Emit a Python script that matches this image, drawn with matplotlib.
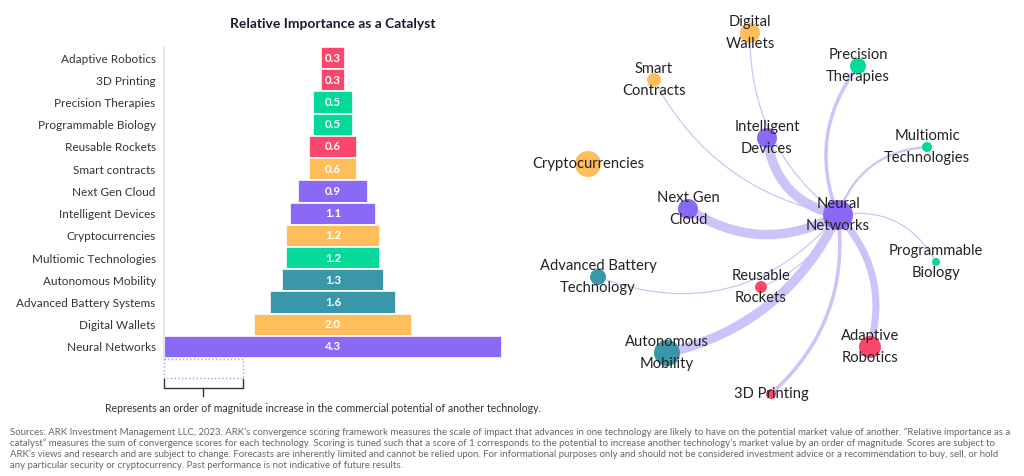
import matplotlib
matplotlib.use("Agg")
import matplotlib.pyplot as plt
from matplotlib.patches import FancyArrowPatch, Rectangle

plt.rcParams['font.family'] = ['Lato', 'DejaVu Sans']

# bar chart data (top to bottom)
techs = ['Adaptive Robotics', '3D Printing', 'Precision Therapies', 'Programmable Biology',
         'Reusable Rockets', 'Smart contracts', 'Next Gen Cloud', 'Intelligent Devices',
         'Cryptocurrencies', 'Multiomic Technologies', 'Autonomous Mobility',
         'Advanced Battery Systems', 'Digital Wallets', 'Neural Networks']
scores = [0.3, 0.3, 0.5, 0.5, 0.6, 0.6, 0.9, 1.1, 1.2, 1.2, 1.3, 1.6, 2.0, 4.3]
groups = ['red', 'red', 'green', 'green', 'red', 'yellow', 'purple', 'purple',
          'yellow', 'green', 'teal', 'teal', 'yellow', 'purple']

palette = {'red': '#FB476B', 'green': '#05D99A', 'yellow': '#FFBE5B',
           'purple': '#8A69F6', 'teal': '#3A97A9'}

# network data
nodes = ['Digital\nWallets', 'Smart\nContracts', 'Precision\nTherapies', 'Intelligent\nDevices',
         'Multiomic\nTechnologies', 'Cryptocurrencies', 'Next Gen\nCloud', 'Neural\nNetworks',
         'Programmable\nBiology', 'Advanced Battery\nTechnology', 'Reusable\nRockets',
         'Autonomous\nMobility', 'Adaptive\nRobotics', '3D Printing']
node_x = [750, 654, 858, 767, 927, 588, 688, 838, 936, 598, 761, 667, 870, 771]
node_y = [33, 80, 66, 138, 147, 164, 209, 215, 262, 277, 287, 353, 347, 394]
node_r = [10, 7, 8, 10, 5, 13, 10, 15, 4, 8, 6, 13, 11, 5]
node_group = ['yellow', 'yellow', 'green', 'purple', 'green', 'yellow', 'purple', 'purple',
              'green', 'teal', 'red', 'teal', 'red', 'red']

# edges into Neural Networks: (source index, weight, curvature)
edge_src = [6, 3, 11, 12, 13, 2, 4, 8, 1, 0, 9, 10]
edge_w = [0.8, 0.8, 0.8, 0.6, 0.3, 0.3, 0.2, 0.1, 0.1, 0.1, 0.1, 0.1]
edge_rad = [0.3, 0.35, 0.24, 0.28, 0.26, 0.28, 0.33, 0.35, 0.24, 0.25, 0.35, 0.2]
hub = 7

footnote = [
    "Sources: ARK Investment Management LLC, 2023. ARK\u2019s convergence scoring framework measures the scale of impact that advances in one technology are likely to have on the potential market value of another. \u201cRelative importance as a",
    "catalyst\u201d measures the sum of convergence scores for each technology. Scoring is tuned such that a score of 1 corresponds to the potential to increase another technology\u2019s market value by an order of magnitude. Scores are subject to",
    "ARK\u2019s views and research and are subject to change. Forecasts are inherently limited and cannot be relied upon. For informational purposes only and should not be considered investment advice or a recommendation to buy, sell, or hold",
    "any particular security or cryptocurrency. Past performance is not indicative of future results.",
]

W, H = 1024, 476
fig = plt.figure(figsize=(W / 100, H / 100), dpi=100)

# ---- network (pixel-like coords) ----
net = fig.add_axes([0, 0, 1, 1])
net.set_xlim(0, W)
net.set_ylim(H, 0)
net.axis('off')

for s, w, r in zip(edge_src, edge_w, edge_rad):
    p = FancyArrowPatch((node_x[s], node_y[s]), (node_x[hub], node_y[hub]),
                        arrowstyle='-', connectionstyle='arc3,rad=%s' % r,
                        lw=max(w * 8.5, 0.9), color='#C9BDF9', alpha=0.9,
                        shrinkA=0, shrinkB=0, zorder=1)
    net.add_patch(p)

sizes = [(2 * r * 0.72) ** 2 for r in node_r]
net.scatter(node_x, node_y, s=sizes, c=[palette[g] for g in node_group],
            linewidths=0, zorder=2)
for name, x, y in zip(nodes, node_x, node_y):
    net.text(x, y, name, ha='center', va='center', fontsize=10.6, color='#222222',
             linespacing=1.7, zorder=3)

# ---- bar chart ----
left, right = 164 / W, 502 / W
top, bottom = 47 / H, 358 / H
ax = fig.add_axes([left, 1 - bottom, right - left, bottom - top])
ypos = list(range(len(techs)))
lefts = [-v / 2 for v in scores]
ax.barh(ypos, scores, left=lefts, height=1.0, color=[palette[g] for g in groups],
        edgecolor='white', linewidth=1.2, zorder=2)
for y, v in zip(ypos, scores):
    ax.text(0, y, '%.1f' % v, ha='center', va='center', color='white',
            fontsize=8.3, fontweight='bold', zorder=3)

ax.set_xlim(-max(scores) / 2, max(scores) / 2)
ax.set_ylim(len(techs) - 0.5, -0.5)
ax.set_yticks(ypos)
ax.set_yticklabels(techs, fontsize=8.5, color='#333333')
ax.tick_params(axis='y', length=0, pad=6)
ax.set_xticks([])
for sp in ['top', 'right', 'bottom']:
    ax.spines[sp].set_visible(False)
ax.spines['left'].set_color('#E6E6E6')
ax.spines['left'].set_linewidth(1.5)
ax.patch.set_alpha(0)
ax.set_title('Relative Importance as a Catalyst', fontsize=10, fontweight='bold',
             color='#1a1a2e', pad=14)

# scale legend: one unit box with bracket
x0 = -max(scores) / 2
ax.add_patch(Rectangle((x0, 13.55), 1.0, 0.85, fill=False, edgecolor='#A996F6',
                       linestyle=':', linewidth=1.0, clip_on=False))
ax.plot([x0, x0, x0 + 1, x0 + 1], [14.45, 14.85, 14.85, 14.45], color='#333333',
        lw=1.0, clip_on=False)
ax.plot([x0 + 0.5, x0 + 0.5], [14.85, 15.2], color='#333333', lw=1.0, clip_on=False)

fig.text(105 / W, 1 - 409 / H,
         'Represents an order of magnitude increase in the commercial potential of another technology.',
         fontsize=7.6, color='#333333', va='center', ha='left')

for i, line in enumerate(footnote):
    fig.text(10 / W, 1 - (432 + 11 * i) / H, line, fontsize=6.9, color='#666666',
             va='center', ha='left')

fig.savefig('out.png', dpi=100)
